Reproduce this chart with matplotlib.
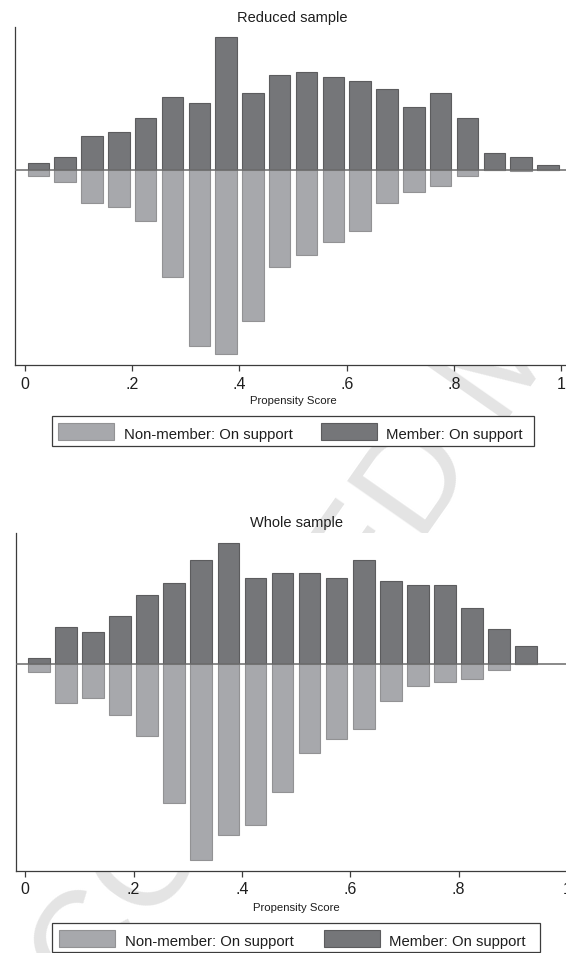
import matplotlib
matplotlib.use("Agg")
import matplotlib.pyplot as plt
from matplotlib import font_manager
from matplotlib.patches import Rectangle
import numpy as np

W, H = 566, 954  # output size in pixels (dpi 100)

# bin midpoints of the propensity-score histogram (width .05)
centers_reduced = [0.025, 0.075, 0.125, 0.175, 0.225, 0.275, 0.325, 0.375, 0.425, 0.475,
                   0.525, 0.575, 0.625, 0.675, 0.725, 0.775, 0.825, 0.875, 0.925, 0.975]
centers_whole = [0.025, 0.075, 0.125, 0.175, 0.225, 0.275, 0.325, 0.375, 0.425, 0.475,
                 0.525, 0.575, 0.625, 0.675, 0.725, 0.775, 0.825, 0.875, 0.925]

# bar heights (members above the line, non-members mirrored below)
reduced_member = [20, 38, 101, 113, 156, 217, 199, 397, 229, 285,
                  293, 279, 267, 243, 188, 229, 156, 51, 38, 14]
reduced_nonmember = [18, 37, 99, 112, 155, 323, 529, 554, 454, 292,
                     255, 217, 185, 99, 68, 48, 18, 0, 5, 0]
whole_member = [20, 112, 98, 145, 208, 243, 313, 364, 258, 273,
                273, 258, 313, 251, 238, 238, 168, 105, 55]
whole_nonmember = [22, 115, 101, 152, 216, 417, 588, 511, 481, 382,
                   267, 223, 194, 109, 65, 52, 45, 16, 0]

tick_pos = [0, 0.2, 0.4, 0.6, 0.8, 1.0]
tick_txt = ["0", ".2", ".4", ".6", ".8", "1"]
legend_labels = ["Non-member: On support", "Member: On support"]

C = {"dark": "#757679", "dark_ec": "#5c5c5e", "light": "#a7a8ac", "light_ec": "#929294",
     "axis": "#3c3c3c", "zero": "#6a6a6a", "ink": "#1e1e1e", "mark": "#e4e4e4"}

names = {f.name for f in font_manager.fontManager.ttflist}
BASE = "Liberation Sans" if "Liberation Sans" in names else "DejaVu Sans"
if "Liberation Sans Narrow" in names:
    LEG_FONT, LEG_SIZE = "Liberation Sans Narrow", 13.2
else:
    LEG_FONT, LEG_SIZE = BASE, 10.7
plt.rcParams.update({"font.family": BASE})


def fx(x):
    return x / W


def fy(y):
    return 1 - y / H


fig = plt.figure(figsize=(W / 100, H / 100), dpi=100)
fig.patch.set_facecolor("white")

# pale diagonal stamp behind both plot regions
fig.text(fx(40), fy(1087), "ACCEPTED MANUSCRIPT", fontsize=101, color=C["mark"],
         rotation=55, rotation_mode="anchor", ha="left", va="baseline", zorder=-5)


def panel(rect_px, xlim, ylim, centers, member, nonmember, title, title_xy, xlab_xy):
    l, t, r, b = rect_px
    ax = fig.add_axes([fx(l), fy(b), (r - l) / W, (b - t) / H])
    ax.bar(centers, member, width=0.04, color=C["dark"], edgecolor=C["dark_ec"], lw=0.8, zorder=2)
    ax.bar(centers, -np.asarray(nonmember), width=0.04, color=C["light"],
           edgecolor=C["light_ec"], lw=0.8, zorder=2)
    ax.axhline(0, color=C["zero"], lw=1.1, zorder=3)
    ax.set_xlim(*xlim); ax.set_ylim(*ylim)
    ax.set_xticks(tick_pos, tick_txt)
    ax.set_yticks([])
    ax.tick_params(axis="x", direction="out", length=4.5, width=0.9, color=C["axis"],
                   pad=3.2, labelsize=11.5, labelcolor=C["ink"])
    for s in ("top", "right"):
        ax.spines[s].set_visible(False)
    for s in ("left", "bottom"):
        ax.spines[s].set_color(C["axis"]); ax.spines[s].set_linewidth(0.9)
    fig.text(fx(title_xy[0]), fy(title_xy[1]), title, ha="center", va="baseline",
             fontsize=10.5, color=C["ink"])
    fig.text(fx(xlab_xy[0]), fy(xlab_xy[1]), "Propensity Score", ha="center", va="baseline",
             fontsize=8.2, color=C["ink"])
    return ax


def legend_box(left, top, width, height, s):
    fig.patches.append(Rectangle((fx(left), fy(top + height)), width / W, height / H,
                                 transform=fig.transFigure, fc="white", ec=C["axis"],
                                 lw=0.9, zorder=4))
    cols = [(6.2, 71.9, C["light"], C["light_ec"]), (269.0, 334.0, C["dark"], C["dark_ec"])]
    for (sx, tx, fc, ec), lab in zip(cols, legend_labels):
        fig.patches.append(Rectangle((fx(left + sx * s), fy(top + 23.7)), 56.2 / W, 16.7 / H,
                                     transform=fig.transFigure, fc=fc, ec=ec, lw=0.8, zorder=5))
        fig.text(fx(left + tx * s), fy(top + 21.8), lab, ha="left", va="baseline",
                 fontsize=LEG_SIZE, family=LEG_FONT, color=C["ink"], zorder=6)


panel((15, 28, 566, 366), (-0.01845, 1.0086), (-586, 428),
      centers_reduced, reduced_member, reduced_nonmember,
      "Reduced sample", (292, 22.3), (293, 404.3))
legend_box(51.6, 417.3, 482.4, 30.0, 1.0)

panel((15.5, 534.3, 572, 871.7), (-0.0181, 1.0096), (-619, 393),
      centers_whole, whole_member, whole_nonmember,
      "Whole sample", (296, 527.0), (296, 911.0))
legend_box(52.3, 924.0, 487.4, 29.3, 1.009)

fig.savefig("out.png", dpi=100, facecolor="white")
